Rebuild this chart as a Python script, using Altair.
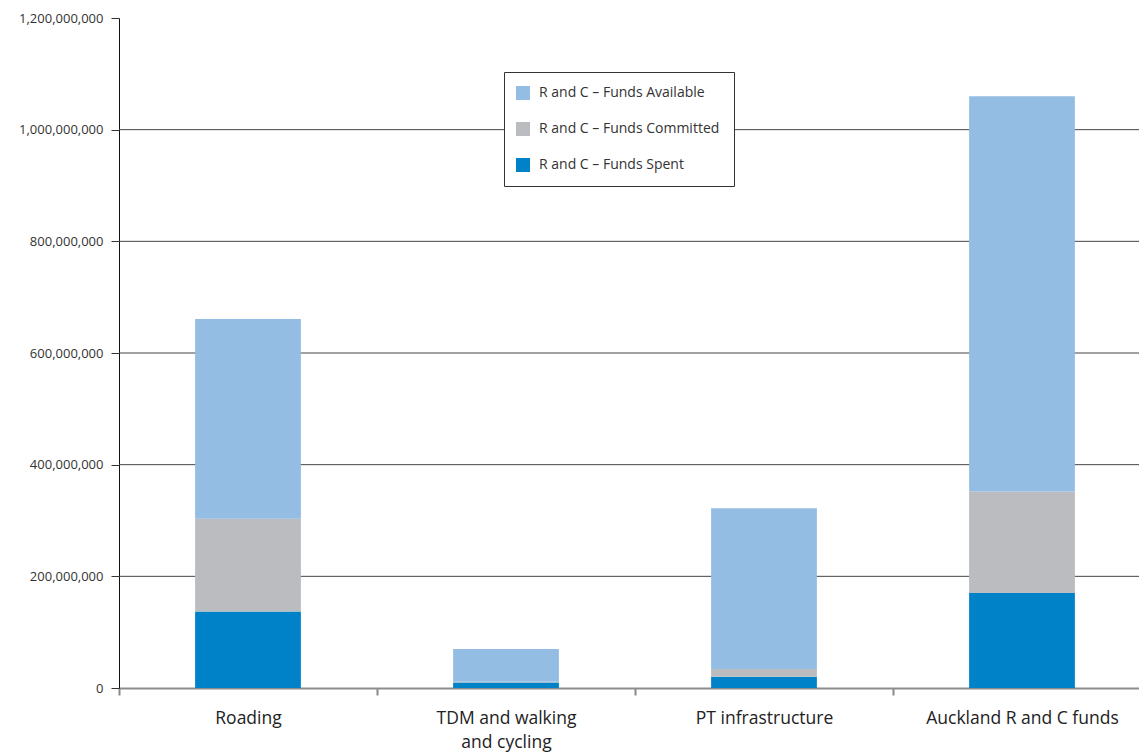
import altair as alt
import pandas as pd

# Funding categories (x axis) and the three stacked series, in NZ dollars
categories = ["Roading", "TDM and walking|and cycling", "PT infrastructure", "Auckland R and C funds"]
funds_spent = [137_000_000, 10_000_000, 20_000_000, 170_000_000]
funds_committed = [166_000_000, 1_000_000, 14_000_000, 182_000_000]
funds_available = [358_000_000, 59_000_000, 288_000_000, 708_000_000]

series_names = ["R and C – Funds Available", "R and C – Funds Committed", "R and C – Funds Spent"]
series_colors = ["#93bde3", "#bbbcc0", "#0082c8"]
grid_values = [200_000_000, 400_000_000, 600_000_000, 800_000_000, 1_000_000_000]
y_ticks = [0, 200_000_000, 400_000_000, 600_000_000, 800_000_000, 1_000_000_000, 1_200_000_000]

rows = []
for i, cat in enumerate(categories):
    rows.append({"category": cat, "series": series_names[2], "value": funds_spent[i], "stack": 0})
    rows.append({"category": cat, "series": series_names[1], "value": funds_committed[i], "stack": 1})
    rows.append({"category": cat, "series": series_names[0], "value": funds_available[i], "stack": 2})
df = pd.DataFrame(rows)
grid_df = pd.DataFrame({"v": grid_values})

font = "Open Sans"

# The category bands run slightly past the right edge of the plot area
x_enc = alt.X(
    "category:N",
    sort=categories,
    title=None,
    scale=alt.Scale(paddingInner=0, paddingOuter=0, range=[0, 1032]),
    axis=alt.Axis(
        labelAngle=0,
        labelExpr="split(datum.label, '|')",
        labelFont=font,
        labelFontSize=17.5,
        labelColor="#222222",
        labelPadding=14,
        labelLineHeight=24,
        labelLimit=300,
        tickBand="extent",
        tickSize=7,
        tickColor="#888888",
        tickWidth=2,
        domainColor="#8c8c8c",
        domainWidth=2,
        grid=False,
    ),
)

bars = alt.Chart(df).mark_bar(width=alt.RelativeBandSize(0.41)).encode(
    x=x_enc,
    y=alt.Y(
        "sum(value):Q",
        stack="zero",
        title=None,
        scale=alt.Scale(domain=[0, 1_200_000_000], nice=False),
        axis=alt.Axis(
            values=y_ticks,
            format=",d",
            labelFont=font,
            labelFontSize=13,
            labelColor="#333333",
            labelPadding=8,
            tickSize=8,
            tickColor="#333333",
            domainColor="#111111",
            domainWidth=1,
            grid=False,
        ),
    ),
    color=alt.Color(
        "series:N",
        scale=alt.Scale(domain=series_names, range=series_colors),
        legend=alt.Legend(
            title=None,
            orient="none",
            legendX=385,
            legendY=54,
            fillColor="white",
            strokeColor="#333333",
            padding=14,
            rowPadding=22,
            symbolType="square",
            symbolSize=196,
            symbolStrokeWidth=0,
            symbolOffset=-2,
            labelFont=font,
            labelFontSize=14,
            labelColor="#333333",
            labelOffset=9,
            labelLimit=300,
        ),
    ),
    order=alt.Order("stack:Q", sort="ascending"),
)

grid = alt.Chart(grid_df).mark_rule(color="#444444", strokeWidth=1).encode(
    y=alt.Y("v:Q")
)

chart = (
    alt.layer(grid, bars)
    .properties(
        width=1020,
        height=670,
        autosize=alt.AutoSizeParams(type="none"),
        padding={"left": 119, "top": 18, "right": 0, "bottom": 68},
        background="white",
    )
    .configure_view(stroke=None)
)

chart.save("out.html", embed_options={"renderer": "svg", "actions": False})
